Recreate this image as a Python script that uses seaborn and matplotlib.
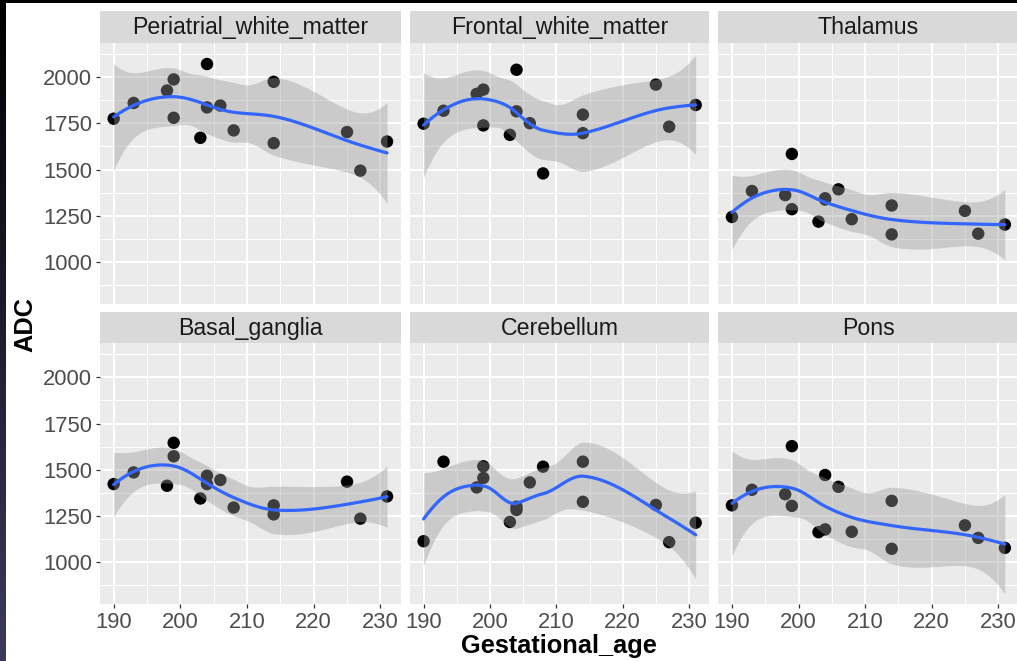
import math
import numpy as np
import pandas as pd
import matplotlib
matplotlib.use("Agg")
import matplotlib.pyplot as plt
from matplotlib.ticker import FixedLocator
import seaborn as sns

# ---------------- data ----------------
regions = ["Periatrial_white_matter", "Frontal_white_matter", "Thalamus",
           "Basal_ganglia", "Cerebellum", "Pons"]
gestational_age = [190, 193, 198, 199, 199, 203, 204, 204, 206, 208, 214, 214, 225, 227, 231]
periatrial = [1774, 1859, 1926, 1986, 1779, 1671, 2069, 1835, 1845, 1711, 1973, 1642, 1702, 1494, 1651]
frontal = [1747, 1817, 1908, 1931, 1738, 1687, 2038, 1814, 1750, 1479, 1796, 1696, 1958, 1731, 1848]
thalamus = [1244, 1384, 1362, 1584, 1286, 1219, 1338, 1345, 1393, 1232, 1306, 1150, 1277, 1154, 1203]
basal = [1423, 1486, 1414, 1646, 1573, 1345, 1468, 1423, 1445, 1296, 1308, 1259, 1436, 1236, 1356]
cerebellum = [1114, 1544, 1405, 1519, 1456, 1218, 1301, 1283, 1432, 1517, 1544, 1327, 1310, 1109, 1214]
pons = [1308, 1392, 1368, 1628, 1305, 1163, 1472, 1178, 1408, 1165, 1332, 1073, 1200, 1132, 1078]
series = [periatrial, frontal, thalamus, basal, cerebellum, pons]
x_ticks = [190, 200, 210, 220, 230]
y_ticks = [1000, 1250, 1500, 1750, 2000]

df = pd.concat([pd.DataFrame({"region": r, "Gestational_age": gestational_age, "ADC": v})
                for r, v in zip(regions, series)], ignore_index=True)


# ---------------- loess (degree 2, span 0.75, kd-tree interpolation) ----------------
def local_rows(x, x0, q):
    """Operator rows for the local quadratic value and slope at x0."""
    n = len(x)
    d = np.abs(x - x0)
    h = np.sort(d)[q - 1]
    w = np.clip(1 - (d / h) ** 3, 0, None) ** 3
    X = np.vstack([np.ones(n), x - x0, (x - x0) ** 2]).T
    XtW = X.T * w
    B = np.linalg.solve(XtW @ X, XtW)
    return B[0], B[1]


def kd_leaves(x, span, cell=0.2):
    xs = np.sort(x)
    n = len(xs)
    fc = int(math.floor(n * span * cell))
    mu = 0.005 * max(xs[-1] - xs[0], 1e-10)
    leaves = []

    def split(l, u, a, b):
        if u - l + 1 <= fc:
            leaves.append((a, b))
            return
        m = (l + u) // 2
        offset = 0
        while not (m + offset >= u or m + offset < l):
            if xs[m + offset - 1] == xs[m + offset]:
                offset = -offset
                if offset >= 0:
                    offset += 1
            else:
                m = m + offset
                break
        xi = xs[m - 1]
        if xi == a or xi == b:
            leaves.append((a, b))
            return
        split(l, m, a, xi)
        split(m + 1, u, xi, b)

    split(1, n, xs[0] - mu, xs[-1] + mu)
    return leaves


def loess_operator(x, x_eval, span=0.75):
    n = len(x)
    q = int(math.floor(n * span))
    leaves = kd_leaves(x, span)
    cache = {}

    def vert(v):
        if v not in cache:
            cache[v] = local_rows(x, v, q)
        return cache[v]

    rows = []
    for xe in x_eval:
        a, b = next((a, b) for a, b in leaves if a <= xe <= b)
        la, sa = vert(a)
        lb, sb = vert(b)
        h = b - a
        t = (xe - a) / h
        phi0 = (1 - t) ** 2 * (1 + 2 * t)
        phi1 = t ** 2 * (3 - 2 * t)
        psi0 = t * (1 - t) ** 2
        psi1 = -t ** 2 * (1 - t)
        rows.append(phi0 * la + phi1 * lb + h * (psi0 * sa + psi1 * sb))
    return np.array(rows)


def t_ppf(p, dof):
    xs = np.linspace(0, 40, 400001)
    c = math.gamma((dof + 1) / 2) / (math.sqrt(dof * math.pi) * math.gamma(dof / 2))
    pdf = c * (1 + xs ** 2 / dof) ** (-(dof + 1) / 2)
    cdf = 0.5 + np.concatenate([[0], np.cumsum((pdf[1:] + pdf[:-1]) / 2 * np.diff(xs))])
    return float(np.interp(p, cdf, xs))


def loess_fit(x, y, n_out=80):
    x = np.asarray(x, float)
    y = np.asarray(y, float)
    grid = np.linspace(x.min(), x.max(), n_out)
    Lfit = loess_operator(x, x)
    IL = np.eye(len(x)) - Lfit
    R = IL.T @ IL
    d1 = np.trace(R)
    d2 = np.trace(R @ R)
    res = IL @ y
    s = math.sqrt(np.sum(res ** 2) / d1)
    Lg = loess_operator(x, grid)
    fit = Lg @ y
    se = s * np.sqrt(np.sum(Lg ** 2, axis=1))
    t = t_ppf(0.975, d1 ** 2 / d2)
    return grid, fit, fit - t * se, fit + t * se


# ---------------- styling ----------------
sns.set_theme(style="darkgrid")
plt.rcParams["font.family"] = ["Liberation Sans", "DejaVu Sans"]

W, H = 1017, 661
fig = plt.figure(figsize=(W / 100, H / 100), dpi=100)
fig.patch.set_facecolor("white")


def rect(x0, y0, x1, y1):
    return [x0 / W, 1 - y1 / H, (x1 - x0) / W, (y1 - y0) / H]


cols = [(100, 400.7), (410, 709.3), (718.3, 1018.5)]
rows = [(11, 42.7, 304.3), (312.3, 343.3, 604.3)]
xlim = (187.95, 233.05)
ylim = (773, 2184)
TICK_FS = 15.8
STRIP_FS = 16.7
TITLE_FS = 18.3

for i, region in enumerate(regions):
    r, c = divmod(i, 3)
    x0, x1 = cols[c]
    s0, s1, p1 = rows[r]
    ax = fig.add_axes(rect(x0, s1, x1, p1))
    ax.set_facecolor("#EBEBEB")
    for sp in ax.spines.values():
        sp.set_visible(False)
    sub = df[df["region"] == region]
    sns.scatterplot(data=sub, x="Gestational_age", y="ADC", ax=ax, color="black",
                    s=80, edgecolor="none", linewidth=0, zorder=3, legend=False)
    gx, gf, lo, hi = loess_fit(sub["Gestational_age"].values, sub["ADC"].values)
    ax.fill_between(gx, lo, hi, color="#999999", alpha=0.4, linewidth=0, zorder=4)
    sns.lineplot(x=gx, y=gf, ax=ax, color="#3366FF", linewidth=2.3, zorder=5)
    ax.set_xlim(*xlim)
    ax.set_ylim(*ylim)
    ax.xaxis.set_major_locator(FixedLocator(x_ticks))
    ax.yaxis.set_major_locator(FixedLocator(y_ticks))
    ax.xaxis.set_minor_locator(FixedLocator([195, 205, 215, 225]))
    ax.yaxis.set_minor_locator(FixedLocator([875, 1125, 1375, 1625, 1875, 2125]))
    ax.grid(which="major", color="white", linewidth=1.5)
    ax.grid(which="minor", color="white", linewidth=0.75)
    ax.set_axisbelow(True)
    ax.set_xlabel("")
    ax.set_ylabel("")
    ax.tick_params(which="minor", length=0)
    ax.tick_params(axis="x", which="major", length=3.2, width=0.9, color="#333333",
                   labelsize=TICK_FS, labelcolor="#4D4D4D", pad=2.5,
                   bottom=(r == 1), labelbottom=(r == 1))
    ax.tick_params(axis="y", which="major", length=3.2, width=0.9, color="#333333",
                   labelsize=TICK_FS, labelcolor="#4D4D4D", pad=2.5,
                   left=(c == 0), labelleft=(c == 0))
    # strip
    sax = fig.add_axes(rect(x0, s0, x1, s1))
    sax.set_facecolor("#D9D9D9")
    sax.set_xticks([])
    sax.set_yticks([])
    for sp in sax.spines.values():
        sp.set_visible(False)
    sax.grid(False)
    sax.text(0.5, 0.47, region, ha="center", va="center", fontsize=STRIP_FS,
             color="#1A1A1A", transform=sax.transAxes)

fig.text(559 / W, 1 - 646 / H, "Gestational_age", ha="center", va="center",
         fontsize=TITLE_FS, fontweight="bold", color="black")
fig.text(25 / W, 1 - 324 / H, "ADC", ha="center", va="center", rotation=90,
         fontsize=TITLE_FS, fontweight="bold", color="black")

# screenshot border: black top bar and dark left edge
top = fig.add_axes([0, 1 - 3 / H, 1, 3 / H])
top.set_facecolor("black")
top.set_xticks([]); top.set_yticks([])
for sp in top.spines.values():
    sp.set_visible(False)
left = fig.add_axes([0, 0, 6 / W, 1])
grad = np.linspace(0, 1, 256)[:, None, None]
c_top = np.array([0.0, 0.0, 0.0])
c_bot = np.array([0x3c, 0x3b, 0x5e]) / 255
img = c_top * (1 - grad) + c_bot * grad
left.imshow(img, aspect="auto", extent=[0, 1, 0, 1], origin="upper")
left.set_xticks([]); left.set_yticks([])
left.grid(False)
for sp in left.spines.values():
    sp.set_visible(False)

fig.savefig("out.png", dpi=100, facecolor="white")
